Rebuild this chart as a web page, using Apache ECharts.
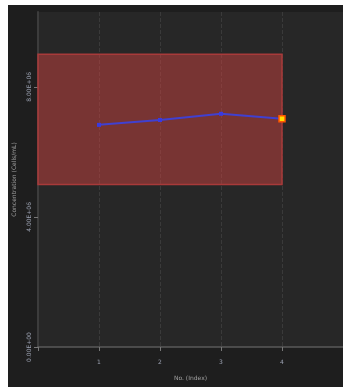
<!DOCTYPE html>
<html>
<head>
<meta charset="utf-8">
<script src="https://cdn.jsdelivr.net/npm/echarts@6/dist/echarts.min.js"></script>
<style>
  html, body { margin: 0; padding: 0; background: #ffffff; }
  #chart { position: absolute; left: 8px; top: 5px; width: 335px; height: 382px; background: #1e1e1e; }
</style>
</head>
<body>
<div id="chart"></div>
<script>
// Measured concentration per sample index
const indices = [1, 2, 3, 4];
const concentration = [6.83e6, 6.98e6, 7.17e6, 7.02e6];
// Acceptable range band
const rangeLow = 5e6;
const rangeHigh = 9e6;
const yTicks = [0, 4e6, 8e6];

const chart = echarts.init(document.getElementById('chart'));

const points = indices.map((x, i) => [x, concentration[i]]);
const last = points.length - 1;

chart.setOption({
  backgroundColor: '#1e1e1e',
  animation: false,
  grid: {
    left: 30, top: 7, right: 0, bottom: 40, outerBoundsMode: 'none', containLabel: false,
    show: true, backgroundColor: '#272727', borderWidth: 0
  },
  xAxis: {
    type: 'value', min: 0, max: 5, interval: 1,
    name: 'No. (Index)', nameLocation: 'middle', nameGap: 28,
    nameTextStyle: { color: '#a0a0a0', fontSize: 6, fontFamily: 'DejaVu Sans' },
    axisLine: { show: true, lineStyle: { color: '#5a5a5a', width: 1.5 } },
    axisTick: { show: true, length: 4, lineStyle: { color: '#777' } },
    axisLabel: {
      color: '#9aa0b0', fontSize: 6, margin: 12, fontFamily: 'DejaVu Sans',
      formatter: v => indices.includes(v) ? String(v) : ''
    },
    splitLine: { show: true, lineStyle: { color: '#3a3a3a', type: 'dashed', width: 1 } }
  },
  yAxis: {
    type: 'value', min: 0, max: 10.3e6, interval: 4e6,
    name: 'Concentration (Cells/mL)', nameLocation: 'middle', nameGap: 21,
    nameTextStyle: { color: '#a0a0a0', fontSize: 6, fontFamily: 'DejaVu Sans' },
    axisLine: { show: true, lineStyle: { color: '#3c3c3c', width: 2 } },
    axisTick: { show: true, length: 4, lineStyle: { color: '#777' } },
    axisLabel: {
      color: '#9aa0b0', fontSize: 6, rotate: 90, margin: 6, fontFamily: 'DejaVu Sans',
      showMaxLabel: false,
      formatter: v => yTicks.includes(v) ? v.toExponential(2).toUpperCase().replace('E+', 'E+0') : ''
    },
    splitLine: { show: false }
  },
  series: [{
    type: 'line',
    data: points.map((p, i) => i === last ? {
      value: p, symbol: 'rect', symbolSize: 6,
      itemStyle: { color: '#ffdd00', borderColor: '#ff5500', borderWidth: 1.5 }
    } : { value: p }),
    symbol: 'rect', symbolSize: 4,
    lineStyle: { color: '#4040d0', width: 2 },
    itemStyle: { color: '#3a3ae0' },
    markArea: {
      silent: true,
      itemStyle: { color: 'rgba(202,66,64,0.5)', borderColor: '#a83a3a', borderWidth: 1.5 },
      data: [[{ coord: [0, rangeHigh] }, { coord: [indices[last], rangeLow] }]]
    },
    z: 3
  }]
});
</script>
</body>
</html>
